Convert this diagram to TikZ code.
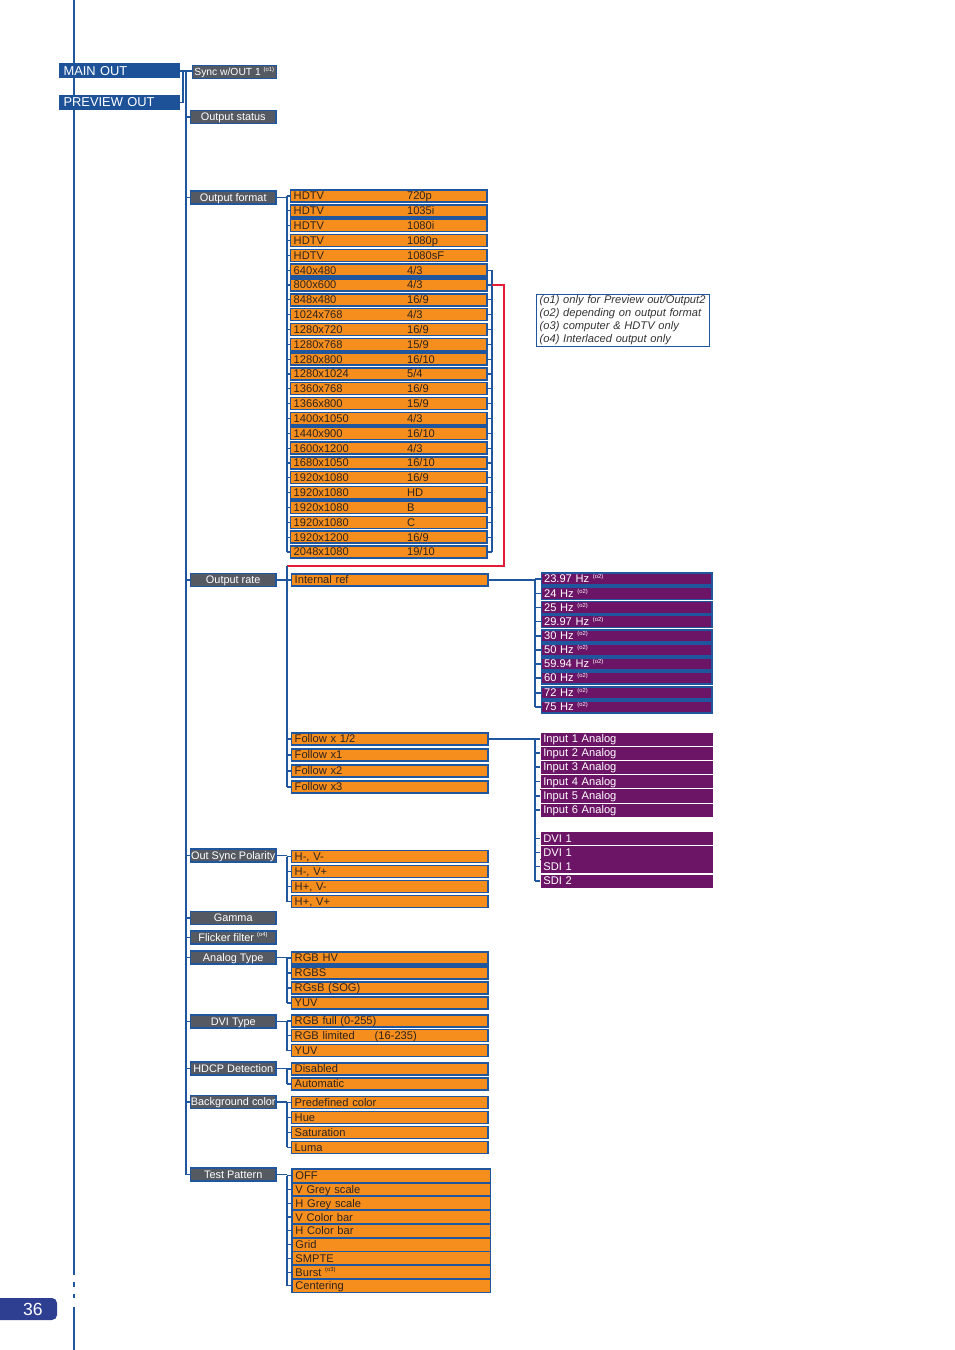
\documentclass[tikz,border=0pt]{standalone}
\usepackage{tikz}
\usepackage{fontspec}
\setmainfont{Liberation Sans}
\definecolor{lblue}{RGB}{31,86,158}
\definecolor{mblue}{RGB}{30,82,152}
\definecolor{orng}{RGB}{246,142,30}
\definecolor{ggray}{RGB}{85,90,98}
\definecolor{purp}{RGB}{108,20,102}
\definecolor{redc}{RGB}{228,28,56}
\definecolor{pnum}{RGB}{46,62,145}
\definecolor{otxt}{RGB}{45,35,30}
\newcommand\sups[1]{\space\textsuperscript{\fontsize{5}{5}\selectfont(#1)}}

\begin{document}
\begin{tikzpicture}[x=0.03cm, y=-0.03cm,
    conn/.style={draw=lblue, line width=1pt},
    redl/.style={draw=redc, line width=1pt},
    band/.style={fill=lblue},
    mbox/.style={fill=mblue, text=white, anchor=west, inner xsep=0.13cm, inner ysep=0pt, text width=3.37cm, align=left, minimum height=0.45cm, text height=8.6pt, text depth=1pt, font=\fontsize{11}{12}\selectfont},
    gbox/.style={fill=ggray, draw=lblue, line width=1.2pt, text=white, anchor=west, inner sep=0pt, minimum width=2.57cm, minimum height=0.38cm, text height=7.7pt, text depth=1pt, font=\fontsize{9.3}{10}\selectfont},
    obox/.style={fill=orng, draw=lblue, line width=1.2pt, text=otxt, anchor=west, inner xsep=0.1cm, inner ysep=0pt, text width=5.7cm, align=left, minimum height=0.36cm, text height=7.8pt, text depth=1pt, font=\fontsize{9.5}{10}\selectfont},
    pbox/.style={obox, fill=purp, text=white, text width=4.96cm, inner xsep=0.08cm},
    ibox/.style={pbox, draw=none, text width=5.0cm, minimum height=0.39cm}]
\useasboundingbox (0,0) rectangle (954,1350);

% page edge and number
\draw[conn, line width=1.2pt] (74,0) -- (74,1275) (74,1282) -- (74,1287) (74,1294) -- (74,1298) (74,1307) -- (74,1350);
\fill[pnum, rounded corners=0.15cm] (-10,1298) rectangle (57,1320);
\node[text=white, font=\fontsize{15}{15}\selectfont] (pg) at (33,1309) {36};

% outputs and menu
\node[mbox] (mainout) at (59,71) {MAIN OUT};
\node[mbox] (prevout) at (59,102.5) {PREVIEW OUT};
\node[gbox, minimum width=2.53cm, font=\fontsize{8.8}{10}\selectfont] (sync) at (191.7,72) {Sync w/OUT 1\sups{o1}};
\node[gbox] (gstat) at (189.7,117) {Output status};
\node[gbox] (gfmt) at (189.7,197.5) {Output format};
\node[gbox] (grate) at (189.7,580) {Output rate};
\node[gbox] (gsync) at (189.7,855.5) {Out Sync Polarity};
\node[gbox] (ggam) at (189.7,918) {Gamma};
\node[gbox] (gflk) at (189.7,937.5) {Flicker filter\sups{o4}};
\node[gbox] (gana) at (189.7,957.5) {Analog Type};
\node[gbox] (gdvi) at (189.7,1021.5) {DVI Type};
\node[gbox] (ghdcp) at (189.7,1068.5) {HDCP Detection};
\node[gbox] (gbg) at (189.7,1102) {Background color};
\node[gbox] (gtest) at (189.7,1174.5) {Test Pattern};

\coordinate (tx) at (186,0);
\coordinate (mx) at (183,0);
\coordinate (lx) at (287,0);
\coordinate (rx) at (492,0);
\coordinate (px) at (535,0);
\coordinate (redx) at (504,0);
\coordinate (redy) at (0,566);

\draw[conn] (mainout.east) -- (mainout.east -| sync.west);
\draw[conn] (prevout.east) -- (prevout.east -| mx) -- (mainout.east -| mx);
\draw[conn] (mainout.east -| tx) -- (gtest.west -| tx);
\foreach \g in {gstat,gfmt,grate,gsync,ggam,gflk,gana,gdvi,ghdcp,gbg,gtest}
    \draw[conn] (\g.west -| tx) -- (\g.west);

% output format
\foreach \a/\b [count=\i] in {HDTV/720p, HDTV/1035i, HDTV/1080i, HDTV/1080p, HDTV/1080sF, 640x480/{4/3}, 800x600/{4/3}, 848x480/{16/9}, 1024x768/{4/3}, 1280x720/{16/9}, 1280x768/{15/9}, 1280x800/{16/10}, 1280x1024/{5/4}, 1360x768/{16/9}, 1366x800/{15/9}, 1400x1050/{4/3}, 1440x900/{16/10}, 1600x1200/{4/3}, 1680x1050/{16/10}, 1920x1080/{16/9}, 1920x1080/HD, 1920x1080/B, 1920x1080/C, 1920x1200/{16/9}, 2048x1080/{19/10}}{
    \node[obox] (fmt\i) at (289.7,196+14.83*\i-14.83) {\makebox[3.4cm][l]{\a}\b};
    \draw[conn] (fmt\i.west -| lx) -- (fmt\i.west);
}
\foreach \a/\b in {2/3,6/7,11/12,16/17,21/22}
    \fill[band] (fmt\a.south west) rectangle (fmt\b.north east);
\draw[conn] (gfmt.east) -- (gfmt.east -| lx);
\draw[conn] (fmt1.west -| lx) -- (fmt25.west -| lx);
\foreach \i in {6,...,25}
    \draw[conn] (fmt\i.east) -- (fmt\i.east -| rx);
\draw[conn] (fmt6.east -| rx) -- (fmt25.east -| rx);
\draw[redl] (fmt7.east -| rx) -| (redx |- redy) -- (lx |- redy);

% output rate
\node[obox] (iref) at (290.7,580) {Internal ref};
\foreach \t [count=\i] in {Follow x 1/2, Follow x1, Follow x2, Follow x3}{
    \node[obox] (fol\i) at (290.7,739+16*\i-16) {\t};
    \draw[conn] (fol\i.west -| lx) -- (fol\i.west);
}
\draw[conn] (grate.east) -- (grate.east -| lx);
\draw[conn] (iref.west -| lx) -- (iref.west);
\draw[conn] (lx |- redy) -- (fol4.west -| lx);

\foreach \h/\y [count=\i] in {23.97/579, 24/593.5, 25/607.5, 29.97/621.7, 30/636, 50/650, 59.94/664, 60/678, 72/693, 75/707}{
    \node[pbox] (hz\i) at (540.7,\y) {\h{} Hz\sups{o2}};
    \draw[conn] (hz\i.west -| px) -- (hz\i.west);
}
\foreach \a/\b in {1/2,3/4,5/6,7/8}
    \fill[band] (hz\a.south west) rectangle (hz\b.north east);
\draw[conn] (iref.east) -- (iref.east -| px) -- (hz10.west -| px);

\foreach \t/\y [count=\i] in {Input 1 Analog/739, Input 2 Analog/753, Input 3 Analog/767, Input 4 Analog/781.5, Input 5 Analog/796, Input 6 Analog/810, DVI 1/838.5, DVI 1/852.5, SDI 1/866.5, SDI 2/881}{
    \node[ibox] (in\i) at (540,\y) {\t};
    \draw[conn] (in\i.west -| px) -- (in\i.west);
}
\fill[purp] (in4.south west) rectangle (in5.north east);
\fill[purp] (in8.south west) rectangle (in9.north east);
\draw[conn] (fol1.east) -- (fol1.east -| px) -- (in10.west -| px);

% out sync polarity
\foreach \t [count=\i] in {{H-, V-}, {H-, V+}, {H+, V-}, {H+, V+}}{
    \node[obox] (pol\i) at (290.7,856.5+15*\i-15) {\t};
    \draw[conn] (pol\i.west -| lx) -- (pol\i.west);
}
\draw[conn] (gsync.east) -- (gsync.east -| lx);
\draw[conn] (pol1.west -| lx) -- (pol4.west -| lx);

% analog type
\foreach \t [count=\i] in {RGB HV, RGBS, RGsB (SOG), YUV}{
    \node[obox] (ana\i) at (290.7,958+15*\i-15) {\t};
    \draw[conn] (ana\i.west -| lx) -- (ana\i.west);
}
\fill[band] (ana1.south west) rectangle (ana2.north east);
\draw[conn] (gana.east) -- (gana.east -| lx);
\draw[conn] (ana1.west -| lx) -- (ana4.west -| lx);

% dvi type
\foreach \t [count=\i] in {RGB full (0-255), \makebox[2.4cm][l]{RGB limited}(16-235), YUV}{
    \node[obox] (dvi\i) at (290.7,1021+14.75*\i-14.75) {\t};
    \draw[conn] (dvi\i.west -| lx) -- (dvi\i.west);
}
\draw[conn] (gdvi.east) -- (gdvi.east -| lx);
\draw[conn] (dvi1.west -| lx) -- (dvi3.west -| lx);

% hdcp
\foreach \t [count=\i] in {Disabled, Automatic}{
    \node[obox] (hdcp\i) at (290.7,1069+15*\i-15) {\t};
    \draw[conn] (hdcp\i.west -| lx) -- (hdcp\i.west);
}
\draw[conn] (ghdcp.east) -- (ghdcp.east -| lx);
\draw[conn] (hdcp1.west -| lx) -- (hdcp2.west -| lx);

% background color
\foreach \t [count=\i] in {Predefined color, Hue, Saturation, Luma}{
    \node[obox] (bg\i) at (290.7,1102.5+14.9*\i-14.9) {\t};
    \draw[conn] (bg\i.west -| lx) -- (bg\i.west);
}
\draw[conn] (gbg.east) -- (gbg.east -| lx);
\draw[conn] (bg1.west -| lx) -- (bg4.west -| lx);

% test pattern
\foreach \t [count=\i] in {OFF, V Grey scale, H Grey scale, V Color bar, H Color bar, Grid, SMPTE, Burst\sups{o3}, Centering}{
    \node[obox, text width=5.76cm, minimum height=0.4cm] (tp\i) at (291.4,1175.7+13.77*\i-13.77) {\t};
    \draw[conn] (tp\i.west -| lx) -- (tp\i.west);
}
\draw[conn] (gtest.east) -- (gtest.east -| lx);
\draw[conn] (tp1.west -| lx) -- (tp9.west -| lx);

% notes
\node[draw=lblue, line width=0.6pt, anchor=north west, inner xsep=0.1cm, inner ysep=1pt, text width=4.99cm, align=left, text=black!80, font=\fontsize{9.5}{11.2}\selectfont\itshape] (notes) at (536,294) {(o1) only for Preview out/Output2\\(o2) depending on output format\\(o3) computer \& HDTV only\\(o4) Interlaced output only};

\end{tikzpicture}
\end{document}
